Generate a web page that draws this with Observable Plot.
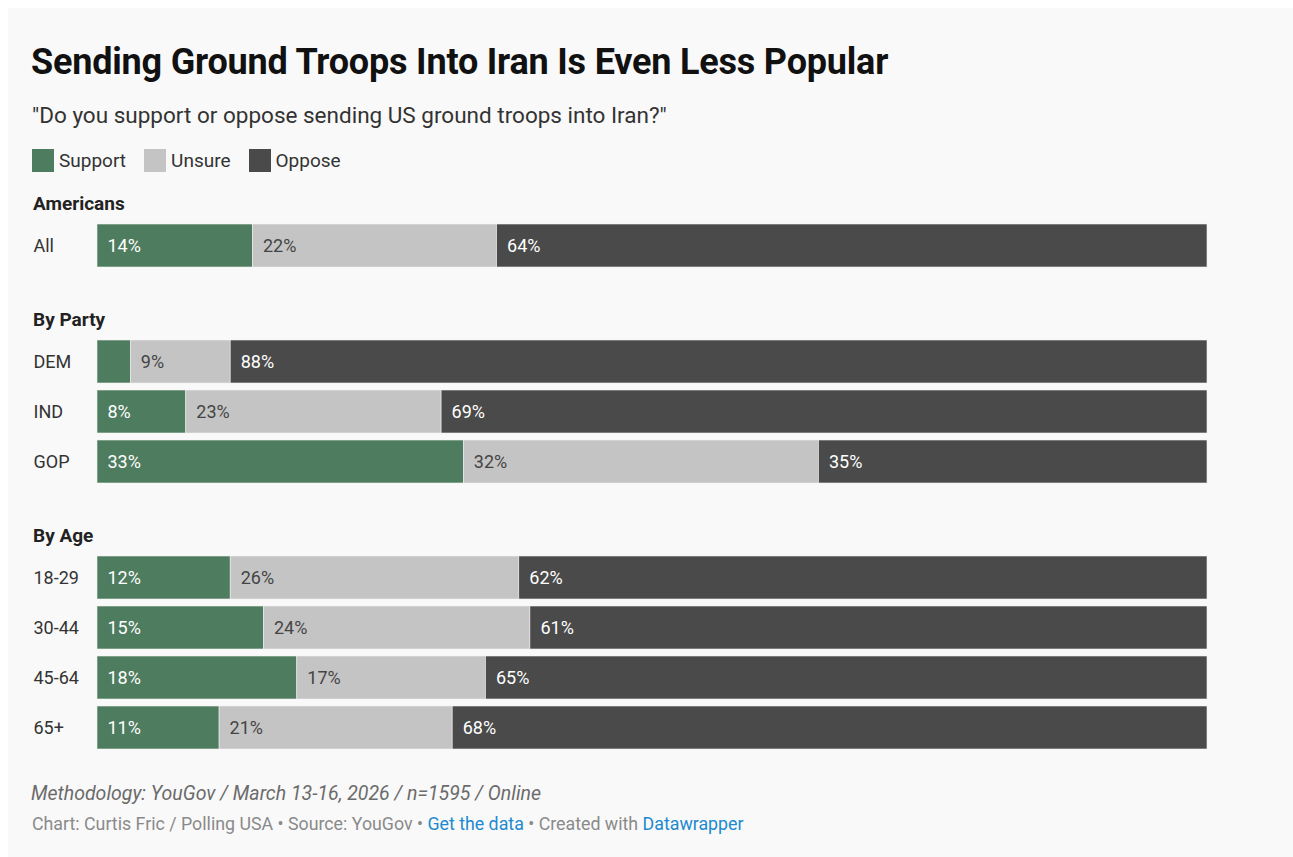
<!DOCTYPE html>
<html>
<head>
<meta charset="utf-8">
<script src="https://cdn.jsdelivr.net/npm/d3@7"></script>
<script src="https://cdn.jsdelivr.net/npm/@observablehq/plot@0.6"></script>
<style>
  html, body { margin: 0; padding: 0; background: #ffffff; }
  body { width: 1293px; height: 857px; position: relative; overflow: hidden; font-family: Roboto, "Noto Sans", sans-serif; }
  #card { position: absolute; left: 8px; top: 8px; right: 0; bottom: 0; background: #f9f9f9; }
  .abs { position: absolute; white-space: nowrap; }
  #title { left: 31px; top: 41px; font-size: 36px; line-height: 42px; font-weight: 700; color: #111; letter-spacing: -0.2px; }
  #subtitle { left: 32px; top: 102px; font-size: 22.5px; line-height: 26px; color: #333; }
  #legend { left: 32px; top: 148px; height: 24px; display: flex; align-items: center; font-size: 19px; color: #333; }
  .sw { display: inline-block; width: 22px; height: 23px; margin-right: 5px; }
  .lg { display: inline-flex; align-items: center; margin-right: 18px; }
  .hdr { left: 33px; font-size: 19px; line-height: 22px; font-weight: 700; color: #222; }
  .plot { position: absolute; left: 33px; }
  #method { left: 31px; top: 783px; font-size: 19.5px; line-height: 22px; font-style: italic; color: #6b6b6b; }
  #credit { left: 32px; top: 814px; font-size: 17.8px; line-height: 20px; color: #8a8a8a; }
  #credit a { color: #1d8ad0; text-decoration: none; }
</style>
</head>
<body>
<div id="card"></div>
<div id="title" class="abs">Sending Ground Troops Into Iran Is Even Less Popular</div>
<div id="subtitle" class="abs">"Do you support or oppose sending US ground troops into Iran?"</div>
<div id="legend" class="abs"></div>
<div id="h0" class="abs hdr" style="top:193px">Americans</div>
<div id="h1" class="abs hdr" style="top:309px">By Party</div>
<div id="h2" class="abs hdr" style="top:525px">By Age</div>
<div id="p0" class="plot" style="top:224px"></div>
<div id="p1" class="plot" style="top:340px"></div>
<div id="p2" class="plot" style="top:556px"></div>
<div id="method" class="abs">Methodology: YouGov / March 13-16, 2026 / n=1595 / Online</div>
<div id="credit" class="abs">Chart: Curtis Fric / Polling USA • Source: YouGov • <a>Get the data</a> • Created with <a>Datawrapper</a></div>
<script>
// ---- data ----
const answers = ["Support", "Unsure", "Oppose"];
const colors = ["#4d7c5e", "#c4c4c4", "#4a4a4a"];

const groupTitles = ["Americans", "By Party", "By Age"];
const americansRows = ["All"];
const partyRows = ["DEM", "IND", "GOP"];
const ageRows = ["18-29", "30-44", "45-64", "65+"];

const support = { "All": 14, "DEM": 3, "IND": 8, "GOP": 33, "18-29": 12, "30-44": 15, "45-64": 18, "65+": 11 };
const unsure  = { "All": 22, "DEM": 9, "IND": 23, "GOP": 32, "18-29": 26, "30-44": 24, "45-64": 17, "65+": 21 };
const oppose  = { "All": 64, "DEM": 88, "IND": 69, "GOP": 35, "18-29": 62, "30-44": 61, "45-64": 65, "65+": 68 };

// ---- legend ----
const legend = document.getElementById("legend");
answers.forEach((a, i) => {
  const s = document.createElement("span");
  s.className = "lg";
  s.innerHTML = `<span class="sw" style="background:${colors[i]}"></span>${a}`;
  legend.appendChild(s);
});

// ---- plots ----
function tidy(rows) {
  const out = [];
  for (const r of rows) {
    out.push({ group: r, answer: "Support", value: support[r] });
    out.push({ group: r, answer: "Unsure", value: unsure[r] });
    out.push({ group: r, answer: "Oppose", value: oppose[r] });
  }
  return out;
}

const step = 50, gap = 7, marginLeft = 64, width = 1174;

function makePlot(rows, id) {
  const data = tidy(rows);
  const h = rows.length * step - gap;
  const stackOpts = { x: "value", y: "group", z: "answer", order: answers };
  const plot = Plot.plot({
    width, height: h,
    marginLeft, marginRight: 0, marginTop: 0, marginBottom: 0,
    style: { background: "transparent", fontFamily: "Roboto, 'Noto Sans', sans-serif", overflow: "visible" },
    x: { domain: [0, 100], axis: null },
    y: { domain: rows, axis: null, paddingInner: rows.length > 1 ? gap / step : 0, paddingOuter: 0 },
    color: { domain: answers, range: colors },
    marks: [
      Plot.barX(data, { ...stackOpts, fill: "answer", stroke: "#f0f0f0", strokeWidth: 0.6, inset: 0 }),
      Plot.text(data, Plot.stackX1({ ...stackOpts,
        text: d => (d.answer !== "Unsure" && d.value >= 5) ? d.value + "%" : "",
        textAnchor: "start", dx: 10, fill: "white", fontSize: 18, fontWeight: 400 })),
      Plot.text(data, Plot.stackX1({ ...stackOpts,
        text: d => (d.answer === "Unsure" && d.value >= 5) ? d.value + "%" : "",
        textAnchor: "start", dx: 10, fill: "#444", fontSize: 18 })),
      Plot.text(rows, { y: d => d, text: d => d, frameAnchor: "left", textAnchor: "start",
        dx: -marginLeft, fill: "#333", fontSize: 18 })
    ]
  });
  document.getElementById(id).appendChild(plot);
}

makePlot(americansRows, "p0");
makePlot(partyRows, "p1");
makePlot(ageRows, "p2");
</script>
</body>
</html>
